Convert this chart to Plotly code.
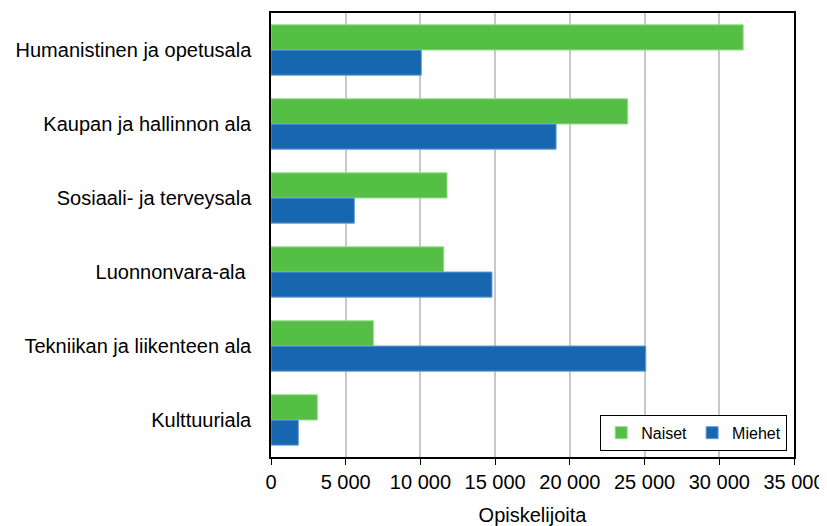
import plotly.graph_objects as go

categories = [
    "Humanistinen ja opetusala",
    "Kaupan ja hallinnon ala",
    "Sosiaali- ja terveysala",
    "Luonnonvara-ala\u00a0",
    "Tekniikan ja liikenteen ala",
    "Kulttuuriala",
]
naiset = [31600, 23870, 11780, 11560, 6850, 3100]
miehet = [10060, 19080, 5580, 14790, 25080, 1830]
x_ticks = [0, 5000, 10000, 15000, 20000, 25000, 30000, 35000]

FONT = "Liberation Sans, Arial, sans-serif"
FS = 20

fig = go.Figure()
fig.add_trace(go.Bar(
    y=categories, x=naiset, name="Naiset", orientation="h",
    marker=dict(color="#55bf45", line=dict(color="#96dc8e", width=1)),
))
fig.add_trace(go.Bar(
    y=categories, x=miehet, name="Miehet", orientation="h",
    marker=dict(color="#1767b0", line=dict(color="#6a9fd6", width=1)),
))

# page body has an 8px default margin, so the figure is 8px smaller
fig.update_layout(
    width=819, height=518,
    margin=dict(l=263, r=33, t=5, b=69, autoexpand=False),
    paper_bgcolor="white", plot_bgcolor="white",
    barmode="group", bargap=0.32, bargroupgap=0,
    separators=", ",
    font=dict(family=FONT, size=FS, color="#000000"),
    showlegend=True,
    legend=dict(
        orientation="h", x=0.987, xanchor="right", y=0.014, yanchor="bottom",
        bordercolor="#000000", borderwidth=1, bgcolor="white",
        font=dict(family=FONT, size=16), itemwidth=30,
        tracegroupgap=0,
    ),
    xaxis=dict(
        range=[0, 35000], tickvals=x_ticks, tickformat=",d",
        showgrid=True, gridcolor="#c8c8c8", gridwidth=1.5,
        showline=True, linecolor="#000000", linewidth=1.5, mirror=True,
        ticks="outside", ticklen=6, tickcolor="#000000",
        zeroline=False, automargin=False,
        title=dict(text="Opiskelijoita", font=dict(family=FONT, size=FS), standoff=18),
        tickfont=dict(family=FONT, size=FS),
    ),
    yaxis=dict(
        autorange="reversed", automargin=False,
        showline=True, linecolor="#000000", linewidth=1.5, mirror=True,
        ticks="", showgrid=False,
        ticklabelstandoff=14,
        tickfont=dict(family=FONT, size=FS),
    ),
)

fig.write_html("out.html")
